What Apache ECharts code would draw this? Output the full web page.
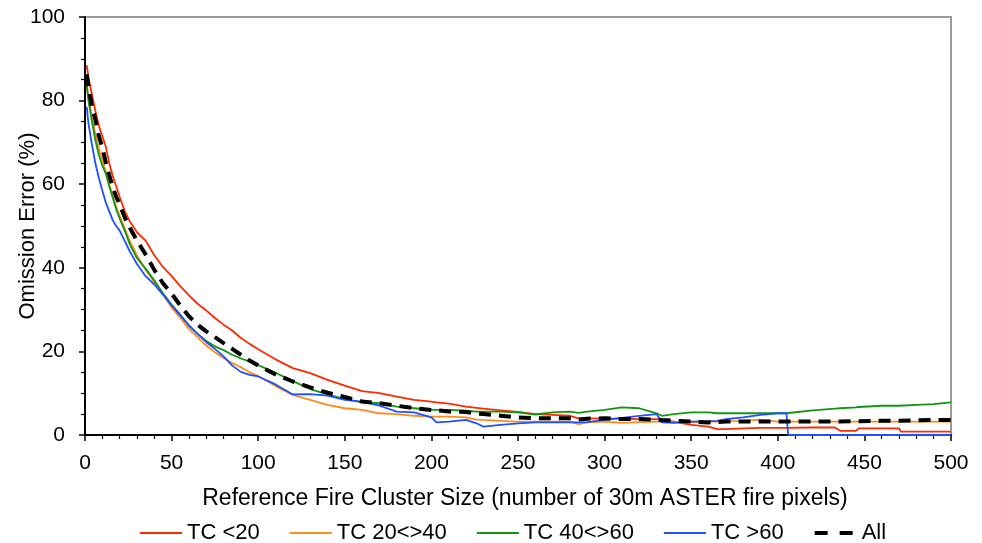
<!DOCTYPE html>
<html>
<head>
<meta charset="utf-8">
<title>Omission error vs fire cluster size</title>
<script src="https://cdn.jsdelivr.net/npm/echarts@6/dist/echarts.min.js"></script>
<style>
    html, body { margin: 0; padding: 0; background: #fff; }
    #chart { width: 982px; height: 543px; }
</style>
</head>
<body>
<div id="chart"></div>
<script>
/* reference fire cluster size (x) */
var sizes = [1, 2, 4, 6, 8, 10, 12, 14, 16, 18,
    20, 23, 26, 30, 35, 40, 45, 50, 55, 60,
    65, 70, 75, 80, 85, 90, 95, 100, 110, 120,
    130, 140, 150, 160, 170, 180, 190, 200, 203, 210,
    220, 226, 230, 240, 250, 260, 270, 280, 285, 290,
    300, 310, 320, 330, 333, 340, 350, 360, 365, 370,
    380, 390, 400, 405, 406, 420, 433, 436, 445, 447,
    460, 470, 471, 480, 490, 500];

/* omission error (%) per tree cover class */
var tcLt20 = [88.5, 85.5, 81.5, 77.5, 74, 71.5, 69, 65, 62, 59.5,
    57, 53.5, 51, 48.5, 46.5, 43, 40.2, 38, 35.6, 33.4,
    31.4, 29.8, 28, 26.4, 25, 23.2, 21.8, 20.5, 18.1, 16,
    14.8, 13.2, 11.8, 10.5, 10, 9.2, 8.4, 8, 7.8, 7.5,
    6.8, 6.5, 6.3, 5.9, 5.5, 5, 4.8, 4.6, 4, 4,
    3.9, 3.9, 3.8, 3.8, 3.7, 3.2, 2.4, 2, 1.4, 1.4,
    1.6, 1.7, 1.7, 1.7, 1.7, 1.8, 1.8, 1.0, 1.0, 1.6,
    1.6, 1.6, 0.8, 0.8, 0.8, 0.8];
var tc20to40 = [84, 80.5, 76, 72, 68.5, 66, 63, 60, 57.3, 54.6,
    52.4, 49.4, 46.3, 43, 39.5, 36.6, 33.6, 30.5, 28, 25.4,
    23.4, 21.4, 19.8, 18.4, 17.2, 16.2, 15, 14.1, 11.7, 9.6,
    8.4, 7.2, 6.4, 6.0, 5.2, 5.0, 4.6, 4.4, 4.4, 4.4,
    4.2, 3.7, 3.6, 3.4, 3.2, 3.2, 3.2, 3.2, 2.6, 3.0,
    3.2, 2.9, 3.1, 3.2, 3.2, 3.0, 3.1, 3.2, 3.2, 3.3,
    3.4, 3.7, 3.2, 3.2, 3.2, 3.2, 3.2, 3.2, 3.2, 3.2,
    3.2, 3.2, 3.2, 3.2, 3.2, 3.2];
var tc40to60 = [83.5, 80, 75, 70.5, 67, 64.5, 62.5, 59.5, 56.8, 54,
    51.8, 48.8, 45.5, 42.3, 39.8, 37, 33.9, 31.2, 28.8, 26.2,
    24.2, 22.5, 21.2, 20.3, 19.2, 18.3, 17.6, 16.7, 14.9, 12.9,
    11, 9.7, 8.6, 7.8, 7.6, 6.8, 6.4, 6.0, 6.0, 6.0,
    5.8, 5.6, 5.6, 5.6, 5.4, 4.9, 5.4, 5.6, 5.3, 5.6,
    6.0, 6.6, 6.4, 5.2, 4.6, 5.0, 5.4, 5.4, 5.2, 5.2,
    5.2, 5.2, 5.2, 5.2, 5.2, 5.9, 6.3, 6.4, 6.6, 6.7,
    7.0, 7.0, 7.0, 7.2, 7.4, 7.8];
var tcGt60 = [78.5, 74.5, 69.5, 65, 61.5, 58.5, 55.6, 53.5, 51.4, 50,
    48.9, 46.4, 43.8, 40.9, 38, 36, 33.6, 31, 28.6, 26.2,
    24.2, 22.2, 20.6, 18.8, 16.6, 15.1, 14.4, 14, 12.1, 9.7,
    9.8, 9.4, 8.4, 8.0, 7.0, 5.6, 5.4, 4.2, 3.0, 3.2,
    3.6, 2.8, 2.0, 2.4, 2.8, 3.0, 3.0, 3.0, 3.0, 3.1,
    3.6, 4.1, 4.6, 5.0, 3.0, 2.9, 3.2, 3.3, 3.4, 3.8,
    4.2, 4.8, 5.2, 5.2, 0, 0, 0, 0, 0, 0,
    0, 0, 0, 0, 0, 0];
var tcAll = [86.3, 83.5, 78.5, 75.5, 71.5, 68.8, 65.2, 62.2, 59.3, 57,
    55.2, 52, 49.5, 46.5, 43.2, 39.5, 36.3, 33.8, 31, 28.4,
    26.4, 24.8, 23.4, 22.0, 20.6, 19.2, 17.8, 16.6, 14.5, 12.8,
    11.4, 10.1, 9.1, 8.0, 7.6, 7.0, 6.4, 6.0, 5.9, 5.6,
    5.5, 5.1, 5.0, 4.6, 4.2, 4.0, 4.0, 4.0, 3.7, 3.9,
    4.0, 3.8, 3.8, 3.7, 3.6, 3.4, 3.2, 3.0, 3.1, 3.2,
    3.2, 3.2, 3.2, 3.2, 3.2, 3.2, 3.2, 3.2, 3.3, 3.3,
    3.4, 3.4, 3.4, 3.5, 3.6, 3.6];

var seriesNames = ['TC <20', 'TC 20<>40', 'TC 40<>60', 'TC >60', 'All'];
var seriesColors = ['#ff2a00', '#ff8c1a', '#129612', '#1f4fff', '#000000'];

var FONT = "'Liberation Sans', Arial, sans-serif";

/* pair x with y */
function toPairs(values) {
    return sizes.map(function (s, i) { return [s, values[i]]; });
}

function lineSeries(idx, values) {
    var dashed = idx === 4;
    return {
        name: seriesNames[idx],
        type: 'line',
        data: toPairs(values),
        symbol: 'none',
        showSymbol: false,
        z: dashed ? 10 : 2 + idx,
        lineStyle: {
            color: seriesColors[idx],
            width: dashed ? 4 : 1.8,
            type: dashed ? [12, 8] : 'solid'
        },
        itemStyle: { color: seriesColors[idx] }
    };
}

/* legend entries, the dashed one gets a two-dash icon */
var legendData = seriesNames.map(function (n, i) {
    if (i === 4) {
        return { name: n, lineStyle: { type: [13, 12], width: 4 } };
    }
    return { name: n };
});

var chart = echarts.init(document.getElementById('chart'), null, { renderer: 'canvas' });

chart.setOption({
    animation: false,
    backgroundColor: '#fff',
    textStyle: { fontFamily: FONT, color: '#000' },
    grid: {
        left: 85, right: 31, top: 17, bottom: 108,
        containLabel: false,
        outerBoundsMode: 'none',
        show: true,
        borderColor: '#9a9a9a',
        borderWidth: 2
    },
    legend: {
        left: 134,
        top: 517,
        itemWidth: 42,
        itemHeight: 14,
        itemGap: 29,
        data: legendData,
        itemStyle: { opacity: 0 },
        textStyle: { fontFamily: FONT, fontSize: 22, color: '#000' }
    },
    xAxis: {
        type: 'value',
        min: 0, max: 500, interval: 50,
        name: 'Reference Fire Cluster Size (number of 30m ASTER fire pixels)',
        nameLocation: 'middle',
        nameGap: 52,
        nameTextStyle: { fontFamily: FONT, fontSize: 23, color: '#000', padding: [0, 0, 0, 14] },
        axisLine: { onZero: false, lineStyle: { color: '#000', width: 2 } },
        axisTick: { show: true, length: 6, lineStyle: { color: '#000', width: 1.5 } },
        minorTick: { show: true, splitNumber: 5, length: 4, lineStyle: { color: '#000', width: 1.2 } },
        axisLabel: { fontFamily: FONT, fontSize: 21, color: '#000', margin: 18 },
        splitLine: { show: false }
    },
    yAxis: {
        type: 'value',
        min: 0, max: 100, interval: 20,
        name: 'Omission Error (%)',
        nameLocation: 'middle',
        nameGap: 46,
        nameMoveOverlap: false,
        nameTextStyle: { fontFamily: FONT, fontSize: 22, color: '#000' },
        axisLine: { show: true, lineStyle: { color: '#000', width: 2 } },
        axisTick: { show: true, length: 6, lineStyle: { color: '#000', width: 1.5 } },
        minorTick: { show: true, splitNumber: 4, length: 4, lineStyle: { color: '#000', width: 1.2 } },
        axisLabel: { fontFamily: FONT, fontSize: 21, color: '#000', margin: 20 },
        splitLine: { show: false }
    },
    series: [
        lineSeries(0, tcLt20),
        lineSeries(1, tc20to40),
        lineSeries(2, tc40to60),
        lineSeries(3, tcGt60),
        lineSeries(4, tcAll)
    ]
});
</script>
</body>
</html>
